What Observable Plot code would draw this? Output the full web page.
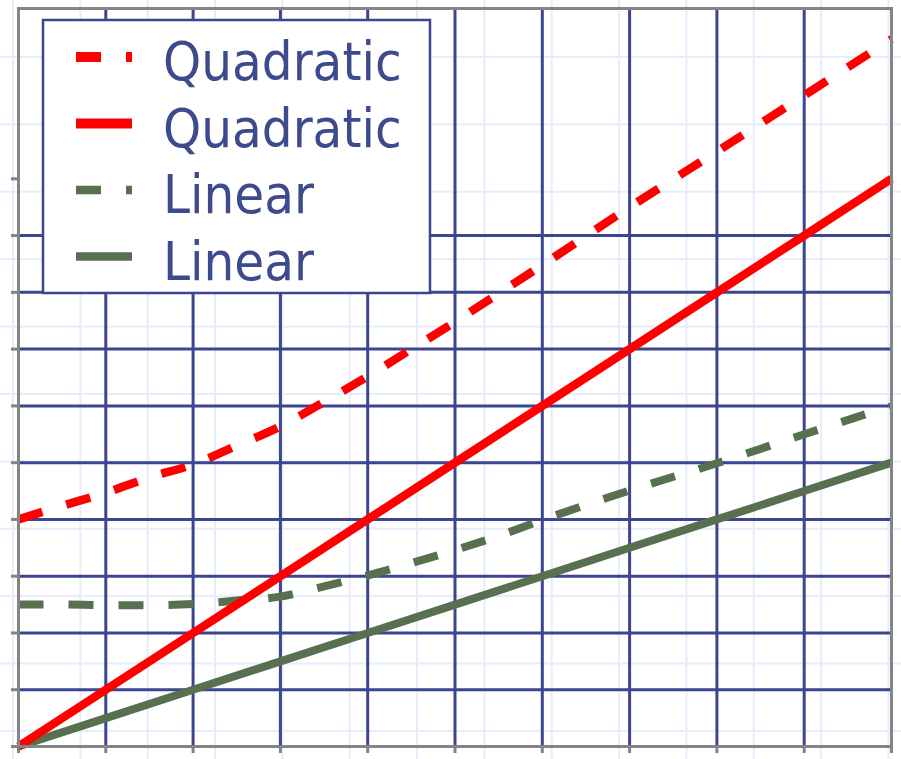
<!DOCTYPE html>
<html>
<head>
<meta charset="utf-8">
<script src="https://cdn.jsdelivr.net/npm/d3@7"></script>
<script src="https://cdn.jsdelivr.net/npm/@observablehq/plot@0.6"></script>
<style>
  html, body { margin: 0; padding: 0; background: #ffffff; }
  #wrap {
    position: relative; width: 901px; height: 759px; overflow: hidden;
    background-color: #ffffff;
    background-image:
      linear-gradient(to right, #e7ecfc 2px, transparent 2px),
      linear-gradient(to bottom, #e7ecfc 2px, transparent 2px);
    background-size: 67.35px 67.4px;
    background-position: 12px 56px;
  }
  #wrap svg.plot { position: absolute; left: 0; top: 0; }
  #legend { position: absolute; left: 0; top: 0; pointer-events: none; }
</style>
</head>
<body>
<div id="wrap"></div>
<script>
// ---- data ----
const xTicks = [0, 1, 2, 3, 4, 5, 6, 7, 8, 9, 10];
const yTicks = [0, 1, 2, 3, 4, 5, 6, 7, 8, 9, 10];
const xGrid = [1, 2, 3, 4, 5, 6, 7, 8, 9];
const yGrid = [1, 2, 3, 4, 5, 6, 7, 8, 9];

const xSolid = [0, 1, 2, 3, 4, 5, 6, 7, 8, 9, 10];
const quadSolidY = [0, 1, 2, 3, 4, 5, 6, 7, 8, 9, 10];
const linSolidY = [0, 0.5, 1, 1.5, 2, 2.5, 3, 3.5, 4, 4.5, 5];

const xDashed = [0, 0.5, 1, 1.5, 2, 2.5, 3, 3.5, 4, 4.5, 5, 5.5, 6, 7, 8, 9, 10];
const quadDashedY = [4.00, 4.24, 4.47, 4.74, 4.97, 5.30, 5.64, 6.07, 6.52, 7.00, 7.48, 7.98, 8.48, 9.50, 10.48, 11.47, 12.46];
const linDashedY = [2.50, 2.50, 2.49, 2.49, 2.51, 2.57, 2.64, 2.82, 3.01, 3.23, 3.46, 3.71, 3.99, 4.51, 4.99, 5.50, 6.00];

const legendLabels = ["Quadratic", "Quadratic", "Linear", "Linear"];

// ---- styles ----
const RED = "#ff0000";
const GREEN = "#577050";
const NAVY = "#3b4590";
const TEXT = "#3e4a8e";
const GRAY = "#848484";

const toRows = (xs, ys) => xs.map((x, i) => ({x, y: ys[i]}));

const chart = Plot.plot({
  width: 901,
  height: 759,
  marginLeft: 18,
  marginTop: 8,
  marginRight: 10,
  marginBottom: 13,
  x: {domain: [0, 10]},
  y: {domain: [0, 13]},
  style: {background: "transparent", overflow: "visible"},
  marks: [
    Plot.ruleX(xGrid, {stroke: NAVY, strokeWidth: 3}),
    Plot.ruleY(yGrid, {stroke: NAVY, strokeWidth: 3}),
    Plot.axisX({ticks: xTicks, tickSize: 7, tickFormat: () => "", label: null, stroke: GRAY, strokeWidth: 3}),
    Plot.axisY({ticks: yTicks, tickSize: 7, tickFormat: () => "", label: null, stroke: GRAY, strokeWidth: 3}),
    Plot.line(toRows(xDashed, linDashedY), {x: "x", y: "y", stroke: GREEN, strokeWidth: 8, strokeDasharray: "25,25", strokeLinecap: "butt", curve: "monotone-x"}),
    Plot.line(toRows(xSolid, linSolidY), {x: "x", y: "y", stroke: GREEN, strokeWidth: 8, strokeLinecap: "butt"}),
    Plot.line(toRows(xDashed, quadDashedY), {x: "x", y: "y", stroke: RED, strokeWidth: 8.5, strokeDasharray: "25,25", strokeLinecap: "butt", curve: "monotone-x"}),
    Plot.line(toRows(xSolid, quadSolidY), {x: "x", y: "y", stroke: RED, strokeWidth: 8.5, strokeLinecap: "butt"}),
    Plot.frame({stroke: GRAY, strokeWidth: 3})
  ]
});
chart.classList.add("plot");
const wrap = document.getElementById("wrap");
wrap.appendChild(chart);

// ---- legend (inside plot area, top-left) ----
const legendStyles = [
  {stroke: RED, width: 10, dash: "25,25"},
  {stroke: RED, width: 10, dash: null},
  {stroke: GREEN, width: 8.5, dash: "25,25"},
  {stroke: GREEN, width: 8.5, dash: null}
];
const svg = d3.select(wrap).append("svg")
  .attr("id", "legend").attr("width", 901).attr("height", 759);
const g = svg.append("g").attr("transform", "translate(43,20)");
g.append("rect").attr("x", 0).attr("y", 0).attr("width", 387).attr("height", 273)
  .attr("fill", "#ffffff").attr("stroke", NAVY).attr("stroke-width", 2.5);
legendLabels.forEach((label, i) => {
  const cy = 37 + i * 66.5;
  const st = legendStyles[i];
  g.append("line").attr("x1", 33).attr("x2", 89).attr("y1", cy).attr("y2", cy)
    .attr("stroke", st.stroke).attr("stroke-width", st.width)
    .attr("stroke-dasharray", st.dash).attr("stroke-linecap", "butt");
  g.append("text").attr("x", 120).attr("y", cy + 23)
    .attr("fill", TEXT)
    .attr("font-family", "'DejaVu Sans Condensed', 'DejaVu Sans', sans-serif")
    .attr("font-stretch", "condensed")
    .attr("font-size", 54)
    .text(label);
});
</script>
</body>
</html>
